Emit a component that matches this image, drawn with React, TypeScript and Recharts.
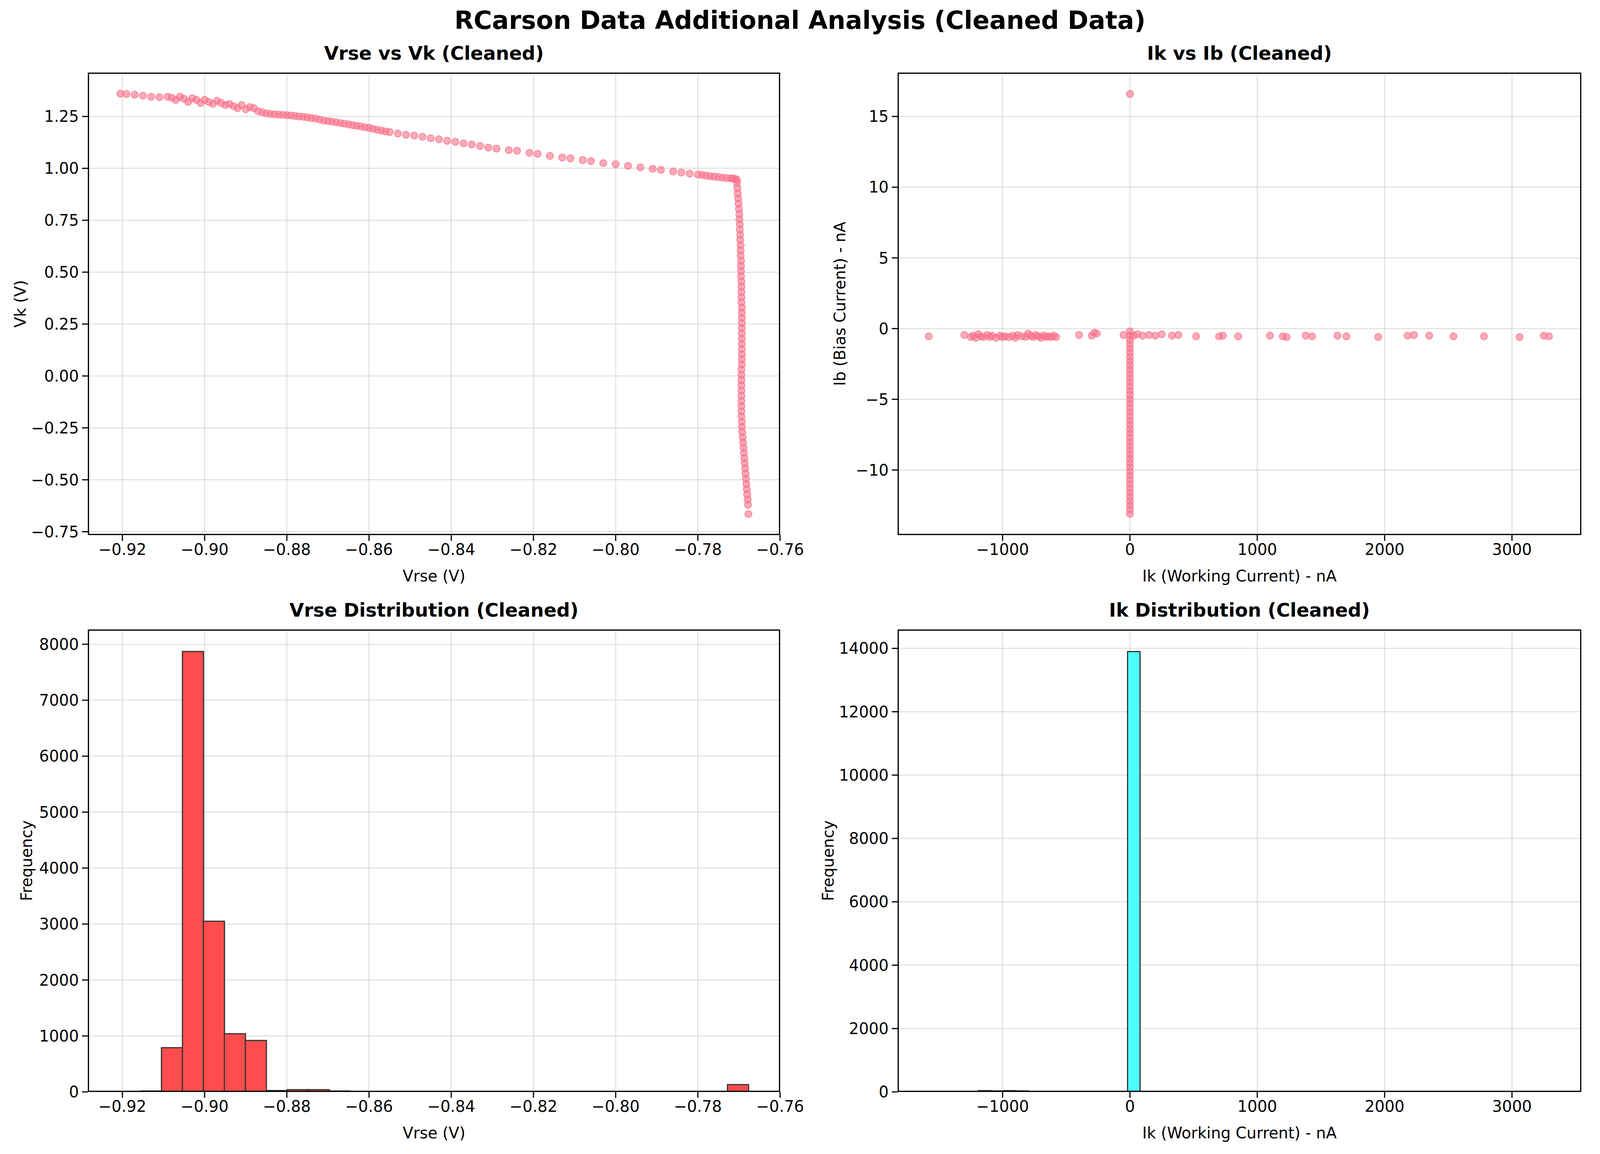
import React from 'react'
import {
  ScatterChart,
  Scatter,
  ComposedChart,
  Bar,
  XAxis,
  YAxis,
  CartesianGrid,
} from 'recharts'

// ---- Vrse vs Vk: upper branch
const vrseUpper = [
  -0.9205, -0.919, -0.917, -0.915, -0.913, -0.911, -0.909, -0.908, -0.907, -0.906, -0.905, -0.904,
  -0.903, -0.902, -0.901, -0.9, -0.899, -0.898, -0.897, -0.896, -0.895, -0.894, -0.893, -0.892,
  -0.891, -0.89, -0.889, -0.888, -0.887, -0.886, -0.885, -0.884, -0.883, -0.882, -0.881, -0.88,
  -0.879, -0.878, -0.877, -0.876, -0.875, -0.874, -0.873, -0.872, -0.871, -0.87, -0.869, -0.868,
  -0.867, -0.866, -0.865, -0.864, -0.863, -0.862, -0.861, -0.86, -0.859, -0.858, -0.857, -0.856,
  -0.855, -0.853, -0.851, -0.849, -0.847, -0.845, -0.843, -0.841, -0.839, -0.837, -0.835, -0.833,
  -0.831, -0.829, -0.826, -0.824, -0.821, -0.819, -0.816, -0.813, -0.811, -0.808, -0.806, -0.803,
  -0.8, -0.797, -0.794, -0.791, -0.789, -0.786, -0.784, -0.782, -0.78, -0.779, -0.778, -0.777,
  -0.776, -0.775, -0.774, -0.773, -0.772, -0.7715, -0.771, -0.7705,
]
const vkUpper = [
  1.36, 1.358, 1.355, 1.35, 1.345, 1.343, 1.345, 1.34, 1.33, 1.345, 1.335, 1.32,
  1.338, 1.33, 1.315, 1.33, 1.32, 1.31, 1.325, 1.315, 1.305, 1.31, 1.3, 1.29,
  1.305, 1.285, 1.295, 1.29, 1.275, 1.27, 1.265, 1.262, 1.26, 1.259, 1.258, 1.256,
  1.255, 1.252, 1.25, 1.248, 1.245, 1.242, 1.24, 1.235, 1.23, 1.228, 1.225, 1.222,
  1.218, 1.215, 1.212, 1.208, 1.205, 1.202, 1.198, 1.195, 1.19, 1.186, 1.182, 1.178,
  1.175, 1.168, 1.162, 1.158, 1.152, 1.145, 1.14, 1.133, 1.128, 1.12, 1.115, 1.108,
  1.1, 1.095, 1.088, 1.085, 1.075, 1.07, 1.06, 1.052, 1.048, 1.04, 1.035, 1.025,
  1.02, 1.012, 1.005, 0.998, 0.993, 0.985, 0.98, 0.975, 0.97, 0.968, 0.965, 0.962,
  0.96, 0.958, 0.955, 0.953, 0.952, 0.951, 0.95, 0.945,
]
// ---- Vrse vs Vk: vertical drop
const vrseDrop = [
  -0.7705, -0.7704, -0.7703, -0.7702, -0.7701, -0.77, -0.7699, -0.7699,
  -0.7698, -0.7698, -0.7697, -0.7697, -0.7696, -0.7696, -0.7696, -0.7695,
  -0.7695, -0.7695, -0.7695, -0.7694, -0.7694, -0.7694, -0.7694, -0.7694,
  -0.7693, -0.7693, -0.7693, -0.7693, -0.7693, -0.7693, -0.7693, -0.7693,
  -0.7693, -0.7693, -0.7693, -0.7693, -0.7694, -0.7694, -0.7694, -0.7694,
  -0.7694, -0.7694, -0.7694, -0.7694, -0.7694, -0.7694, -0.7693, -0.7693,
  -0.7692, -0.7691, -0.769, -0.7689, -0.7688, -0.7687, -0.7686, -0.7685,
  -0.7684, -0.7683, -0.7682, -0.7681, -0.768, -0.7679, -0.7678, -0.7677,
]
const vkDrop = [
  0.93, 0.905, 0.88, 0.855, 0.83, 0.805, 0.78, 0.755,
  0.73, 0.705, 0.68, 0.655, 0.63, 0.605, 0.58, 0.555,
  0.53, 0.505, 0.48, 0.455, 0.43, 0.405, 0.38, 0.355,
  0.33, 0.305, 0.28, 0.255, 0.23, 0.205, 0.18, 0.155,
  0.13, 0.105, 0.08, 0.055, 0.03, 0.005, -0.02, -0.045,
  -0.07, -0.095, -0.12, -0.145, -0.17, -0.195, -0.22, -0.245,
  -0.27, -0.295, -0.32, -0.345, -0.37, -0.395, -0.42, -0.445,
  -0.47, -0.495, -0.52, -0.545, -0.57, -0.595, -0.62, -0.665,
]

// ---- Ik vs Ib: horizontal band near Ib = -0.5
const ikBand = [
  -1580, -1300, -1250, -1230, -1210, -1190, -1170, -1150, -1120, -1100, -1080, -1050, -1020, -1000,
  -980, -950, -920, -900, -880, -850, -820, -800, -780, -760, -740, -720, -700, -680, -660, -640,
  -620, -600, -580, -400, -300, -280, -260, -50, 30, 60, 100, 150, 200, 250, 330, 380, 520, 700,
  730, 850, 1100, 1200, 1230, 1380, 1430, 1630, 1700, 1950, 2180, 2230, 2350, 2540, 2780, 3060,
  3250, 3290,
]
const ibBand = [
  -0.55, -0.45, -0.6, -0.5, -0.65, -0.4, -0.55, -0.6, -0.45, -0.6, -0.5, -0.65, -0.5, -0.6,
  -0.55, -0.6, -0.5, -0.65, -0.45, -0.55, -0.6, -0.35, -0.5, -0.6, -0.45, -0.55, -0.65, -0.5, -0.6, -0.55,
  -0.6, -0.5, -0.6, -0.45, -0.5, -0.3, -0.35, -0.45, -0.5, -0.4, -0.5, -0.45, -0.5, -0.4, -0.5, -0.45, -0.55, -0.55,
  -0.5, -0.55, -0.5, -0.55, -0.6, -0.5, -0.55, -0.5, -0.55, -0.6, -0.5, -0.45, -0.5, -0.55, -0.55, -0.6,
  -0.5, -0.55,
]
// ---- Ik vs Ib: points at Ik ~ 0
const ibAtZero = [
  16.6, -0.2, -0.5, -0.8, -1.1, -1.4, -1.7, -2.0, -2.3, -2.6, -2.9, -3.2, -3.5, -3.8, -4.1, -4.4, -4.7,
  -5.0, -5.3, -5.6, -5.9, -6.2, -6.5, -6.8, -7.1, -7.4, -7.7, -8.0, -8.3, -8.6, -8.9, -9.2, -9.5,
  -9.8, -10.1, -10.4, -10.7, -11.0, -11.3, -11.6, -11.9, -12.2, -12.5, -12.8, -13.1,
]

// ---- Vrse histogram: 30 bins from -0.9207 to -0.7676
const vrseBinStart = -0.9207
const vrseBinWidth = 0.0051
const vrseCounts = [
  10, 15, 790, 7870, 3050, 1040, 920, 25, 40, 40, 15, 10, 5, 5, 5,
  3, 0, 0, 0, 0, 0, 0, 0, 0, 0, 0, 0, 0, 10, 130,
]

// ---- Ik histogram: 50 bins from -1580 to 3300
const ikBinStart = -1580
const ikBinWidth = 97.6
const ikCounts = [
  2, 0, 0, 20, 40, 30, 40, 30, 5, 15, 5, 0, 0, 2, 3, 2, 13900, 3, 2, 2,
  1, 1, 1, 1, 0, 0, 1, 1, 1, 0, 1, 0, 1, 0, 1, 0, 0, 1, 1, 1,
  0, 1, 0, 1, 1, 0, 0, 1, 0, 2,
]

const vrseTicks = [-0.92, -0.9, -0.88, -0.86, -0.84, -0.82, -0.8, -0.78, -0.76]
const vkTicks = [-0.75, -0.5, -0.25, 0, 0.25, 0.5, 0.75, 1.0, 1.25]
const ikTicks = [-1000, 0, 1000, 2000, 3000]
const ibTicks = [-10, -5, 0, 5, 10, 15]
const vrseFreqTicks = [0, 1000, 2000, 3000, 4000, 5000, 6000, 7000, 8000]
const ikFreqTicks = [0, 2000, 4000, 6000, 8000, 10000, 12000, 14000]

const FONT = 'DejaVu Sans, sans-serif'
const PINK = '#f77189'
const minus = (s: string) => s.replace('-', '\u2212')
const fmt2 = (v: number) => minus(v.toFixed(2))
const fmt0 = (v: number) => minus(String(v))

const tick = { fontSize: 40, fill: '#000', fontFamily: FONT }
const tickLine = { stroke: '#000', strokeWidth: 3 }

// the viewport is 4096 wide, so horizontal positions are squeezed to fit
const PAGE_W = 4096
const SX = PAGE_W / 4470
const ML = 300
const MT = 50

function Panel({
  left, top, w, h, title, xLabel, yLabel, yLabelX, children,
}: {
  left: number; top: number; w: number; h: number; title: string; xLabel: string
  yLabel: string; yLabelX: number; children: React.ReactNode
}) {
  return (
    <>
      <div style={{ position: 'absolute', left: left - ML, top: top - MT }}>{children}</div>
      <div style={{ position: 'absolute', left, top, width: w, height: h, border: '3.3px solid #000', boxSizing: 'border-box', pointerEvents: 'none' }} />
      <div style={{ position: 'absolute', left, width: w, top: top - 80, textAlign: 'center', fontWeight: 'bold', fontSize: 48, fontFamily: FONT, lineHeight: '60px' }}>{title}</div>
      <div style={{ position: 'absolute', left, width: w, top: top + h + 80, textAlign: 'center', fontSize: 40, fontFamily: FONT, lineHeight: '50px' }}>{xLabel}</div>
      <div style={{ position: 'absolute', left: yLabelX - 600, top: top + h / 2 - 25, width: 1200, textAlign: 'center', fontSize: 40, fontFamily: FONT, lineHeight: '50px', transform: 'rotate(-90deg)' }}>{yLabel}</div>
    </>
  )
}

function size(w: number, h: number) {
  return { width: w + ML + 100, height: h + MT + 150, margin: { top: MT, right: 100, bottom: 0, left: 0 } }
}

const dot = (p: any) => (
  <circle cx={p.cx} cy={p.cy} r={9} fill={PINK} fillOpacity={0.6} stroke={PINK} strokeOpacity={0.8} strokeWidth={2} />
)

export default function App() {
  const vkData = [
    ...vrseUpper.map((x, i) => ({ x, y: vkUpper[i] })),
    ...vrseDrop.map((x, i) => ({ x, y: vkDrop[i] })),
  ]
  const ibData = [
    ...ikBand.map((x, i) => ({ x, y: ibBand[i] })),
    ...ibAtZero.map((y) => ({ x: 0, y })),
  ]
  const vrseHist = vrseCounts.map((c, i) => ({ x: vrseBinStart + (i + 0.5) * vrseBinWidth, c }))
  const ikHist = ikCounts.map((c, i) => ({ x: ikBinStart + (i + 0.5) * ikBinWidth, c }))

  const L1 = Math.round(246 * SX), L2 = Math.round(2508 * SX)
  const W1 = Math.round(1934 * SX), W2 = Math.round(1910 * SX)
  const T1 = 186, T2 = 1612, H = 1184

  const grid = <CartesianGrid stroke="#b0b0b0" strokeOpacity={0.35} strokeWidth={3} />
  const axisCommon = { tick, tickLine, axisLine: false, tickSize: 15, tickMargin: 8, allowDataOverflow: true }

  return (
    <div style={{ position: 'absolute', left: 0, top: 0, width: PAGE_W, height: 2955, background: '#fff', overflow: 'hidden' }}>
      <div style={{ position: 'absolute', left: 0, width: PAGE_W, top: 14, textAlign: 'center', fontWeight: 'bold', fontSize: 64, fontFamily: FONT, lineHeight: '76px' }}>
        RCarson Data Additional Analysis (Cleaned Data)
      </div>

      <Panel left={L1} top={T1} w={W1} h={H} title="Vrse vs Vk (Cleaned)" xLabel="Vrse (V)" yLabel="Vk (V)" yLabelX={Math.round(57 * SX)}>
        <ScatterChart {...size(W1, H)}>
          {grid}
          <XAxis type="number" dataKey="x" domain={[-0.9284, -0.76]} ticks={vrseTicks} tickFormatter={fmt2} height={150} {...axisCommon} />
          <YAxis type="number" dataKey="y" domain={[-0.766, 1.461]} ticks={vkTicks} tickFormatter={fmt2} width={ML} {...axisCommon} />
          <Scatter data={vkData} isAnimationActive={false} shape={dot} />
        </ScatterChart>
      </Panel>

      <Panel left={L2} top={T1} w={W2} h={H} title="Ik vs Ib (Cleaned)" xLabel="Ik (Working Current) - nA" yLabel="Ib (Bias Current) - nA" yLabelX={Math.round(2346 * SX)}>
        <ScatterChart {...size(W2, H)}>
          {grid}
          <XAxis type="number" dataKey="x" domain={[-1824, 3544]} ticks={ikTicks} tickFormatter={fmt0} height={150} {...axisCommon} />
          <YAxis type="number" dataKey="y" domain={[-14.6, 18.1]} ticks={ibTicks} tickFormatter={fmt0} width={ML} {...axisCommon} />
          <Scatter data={ibData} isAnimationActive={false} shape={dot} />
        </ScatterChart>
      </Panel>

      <Panel left={L1} top={T2} w={W1} h={H} title="Vrse Distribution (Cleaned)" xLabel="Vrse (V)" yLabel="Frequency" yLabelX={Math.round(74 * SX)}>
        <ComposedChart {...size(W1, H)} data={vrseHist} barCategoryGap={0} barGap={0}>
          {grid}
          <XAxis type="number" dataKey="x" domain={[-0.9284, -0.76]} ticks={vrseTicks} tickFormatter={fmt2} height={150} {...axisCommon} />
          <YAxis type="number" domain={[0, 8263]} ticks={vrseFreqTicks} width={ML} {...axisCommon} />
          <Bar dataKey="c" fill="#ff4d4d" stroke="#333" strokeWidth={3} isAnimationActive={false} />
        </ComposedChart>
      </Panel>

      <Panel left={L2} top={T2} w={W2} h={H} title="Ik Distribution (Cleaned)" xLabel="Ik (Working Current) - nA" yLabel="Frequency" yLabelX={Math.round(2314 * SX)}>
        <ComposedChart {...size(W2, H)} data={ikHist} barCategoryGap={0} barGap={0}>
          {grid}
          <XAxis type="number" dataKey="x" domain={[-1824, 3544]} ticks={ikTicks} tickFormatter={fmt0} height={150} {...axisCommon} />
          <YAxis type="number" domain={[0, 14595]} ticks={ikFreqTicks} width={ML} {...axisCommon} />
          <Bar dataKey="c" fill="#4dffff" stroke="#333" strokeWidth={3} isAnimationActive={false} />
        </ComposedChart>
      </Panel>
    </div>
  )
}
